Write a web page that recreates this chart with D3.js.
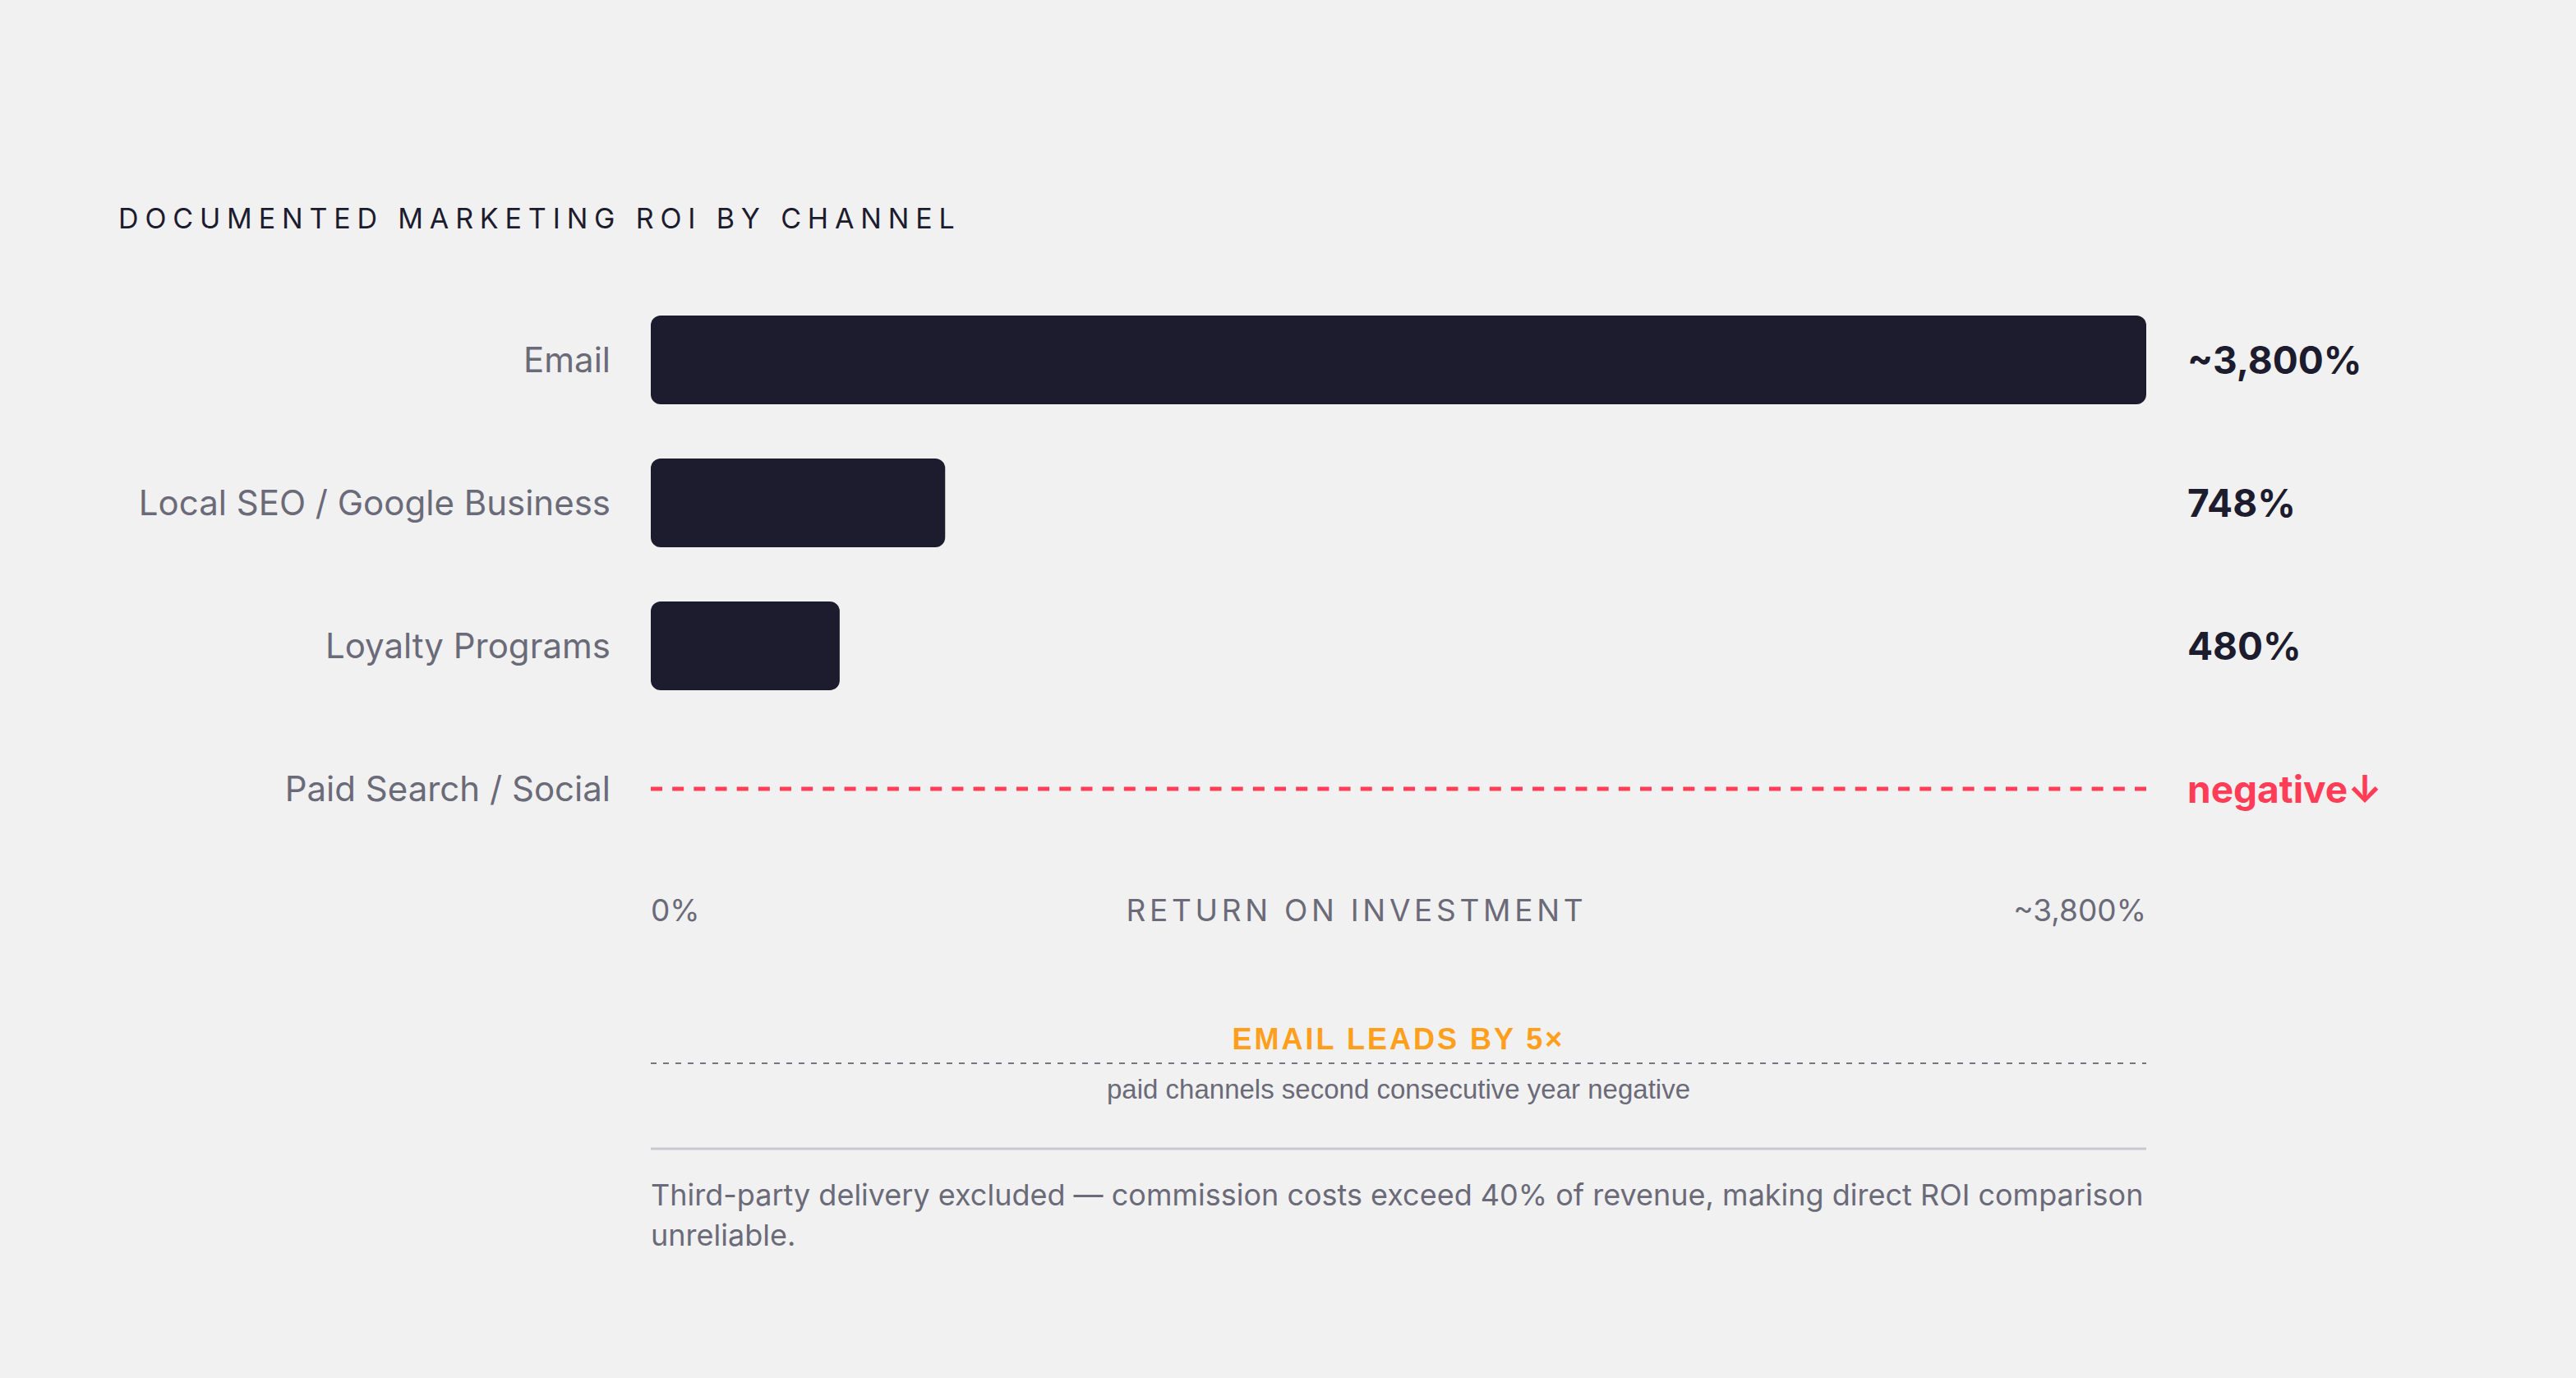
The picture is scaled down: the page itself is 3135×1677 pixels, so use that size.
<!DOCTYPE html>
<html>
<head>
<meta charset="utf-8">
<script src="https://cdn.jsdelivr.net/npm/d3@7/dist/d3.min.js"></script>
<style>
  html, body { margin: 0; padding: 0; background: #f1f1f1; }
  svg { display: block; }
  text { font-family: Inter, "Noto Sans", sans-serif; }
</style>
</head>
<body>
<svg id="chart" width="3135" height="1677"></svg>
<script>
// ---- data ----
const categories = ["Email", "Local SEO / Google Business", "Loyalty Programs", "Paid Search / Social"];
const roiValues = [3800, 748, 480, null];        // null = negative (not drawable as a bar)
const valueLabels = ["~3,800%", "748%", "480%", "negative\u2193"];
const axisTickLabels = ["0%", "~3,800%"];
const axisDomain = [0, 3800];
const titleText = "DOCUMENTED MARKETING ROI BY CHANNEL";
const axisTitle = "RETURN ON INVESTMENT";
const calloutTitle = "EMAIL LEADS BY 5\u00d7";
const calloutSub = "paid channels second consecutive year negative";
const footnoteLines = ["Third-party delivery excluded \u2014 commission costs exceed 40% of revenue, making direct ROI comparison", "unreliable."];

// ---- styles ----
const C = {
  dark: "#1d1c2e",
  grey: "#6b6a78",
  red: "#ff3d57",
  orange: "#ff9f1c",
  rule: "#c9c8cf"
};

const svg = d3.select("#chart");

const x = d3.scaleLinear().domain(axisDomain).range([792, 2612]);
const y = d3.scaleBand().domain(categories).range([351, 1047])
  .paddingInner(66 / 174).paddingOuter(33 / 174);

// title
svg.append("text")
  .attr("x", 144).attr("y", 278)
  .attr("font-size", 34).attr("letter-spacing", 7.85)
  .attr("fill", C.dark)
  .text(titleText);

const rows = categories.map((c, i) => ({ cat: c, v: roiValues[i], label: valueLabels[i] }));

// category labels
svg.append("g").selectAll("text").data(rows).join("text")
  .attr("x", 743)
  .attr("y", d => y(d.cat) + y.bandwidth() / 2)
  .attr("dy", "0.36em")
  .attr("text-anchor", "end")
  .attr("font-size", 42)
  .attr("fill", C.grey)
  .text(d => d.cat);

// bars
svg.append("g").selectAll("rect").data(rows.filter(d => d.v != null)).join("rect")
  .attr("x", x(0))
  .attr("y", d => y(d.cat))
  .attr("width", d => x(d.v) - x(0))
  .attr("height", y.bandwidth())
  .attr("rx", 12).attr("ry", 12)
  .attr("fill", C.dark);

// negative row: dashed line across range (dashes at both ends)
const span = x(axisDomain[1]) - x(axisDomain[0]);
const dashLen = 14;
const nGaps = Math.round((span - dashLen) / 26);
const gapLen = (span - dashLen) / nGaps - dashLen;
svg.append("g").selectAll("line").data(rows.filter(d => d.v == null)).join("line")
  .attr("x1", x(axisDomain[0])).attr("x2", x(axisDomain[1]))
  .attr("y1", d => y(d.cat) + y.bandwidth() / 2)
  .attr("y2", d => y(d.cat) + y.bandwidth() / 2)
  .attr("stroke", C.red).attr("stroke-width", 5)
  .attr("stroke-dasharray", dashLen + " " + gapLen);

// value labels
svg.append("g").selectAll("text").data(rows).join("text")
  .attr("x", x(axisDomain[1]) + 50)
  .attr("y", d => y(d.cat) + y.bandwidth() / 2)
  .attr("dy", "0.36em")
  .attr("font-size", 46)
  .attr("font-weight", 700)
  .attr("fill", d => d.v == null ? C.red : C.dark)
  .text(d => d.label);

// axis row
const axisY = 1121;
const t0 = svg.append("text")
  .attr("x", x(axisDomain[0])).attr("y", axisY)
  .attr("font-size", 37).attr("fill", C.grey)
  .text(axisTickLabels[0]);
const t1 = svg.append("text")
  .attr("x", x(axisDomain[1])).attr("y", axisY)
  .attr("text-anchor", "end")
  .attr("font-size", 37).attr("fill", C.grey)
  .text(axisTickLabels[1]);
const w0 = t0.node().getComputedTextLength();
const w1 = t1.node().getComputedTextLength();
const midX = (x(axisDomain[0]) + w0 + x(axisDomain[1]) - w1) / 2;
svg.append("text")
  .attr("x", midX).attr("y", axisY)
  .attr("text-anchor", "middle")
  .attr("font-size", 37).attr("letter-spacing", 4.7)
  .attr("fill", C.grey)
  .text(axisTitle);

// callout
const cx = (x(axisDomain[0]) + x(axisDomain[1])) / 2;
svg.append("text")
  .attr("x", cx).attr("y", 1277)
  .attr("text-anchor", "middle")
  .style("font-family", "'Liberation Sans', Arial, sans-serif")
  .attr("font-size", 36).attr("font-weight", 700)
  .attr("letter-spacing", 3.0)
  .attr("fill", C.orange)
  .text(calloutTitle);
svg.append("line")
  .attr("x1", x(axisDomain[0])).attr("x2", x(axisDomain[1]))
  .attr("y1", 1294).attr("y2", 1294)
  .attr("stroke", "#77767f").attr("stroke-width", 2)
  .attr("stroke-dasharray", "7 8");
svg.append("text")
  .attr("x", cx).attr("y", 1337)
  .attr("text-anchor", "middle")
  .style("font-family", "'Liberation Sans', Arial, sans-serif")
  .attr("font-size", 33)
  .attr("fill", C.grey)
  .text(calloutSub);

// rule
svg.append("line")
  .attr("x1", x(axisDomain[0])).attr("x2", x(axisDomain[1]))
  .attr("y1", 1398).attr("y2", 1398)
  .attr("stroke", C.rule).attr("stroke-width", 3);

// footnote
svg.append("g").selectAll("text").data(footnoteLines).join("text")
  .attr("x", x(axisDomain[0]))
  .attr("y", (d, i) => 1467 + i * 49)
  .attr("font-size", 36)
  .attr("fill", C.grey)
  .text(d => d);
</script>
</body>
</html>
